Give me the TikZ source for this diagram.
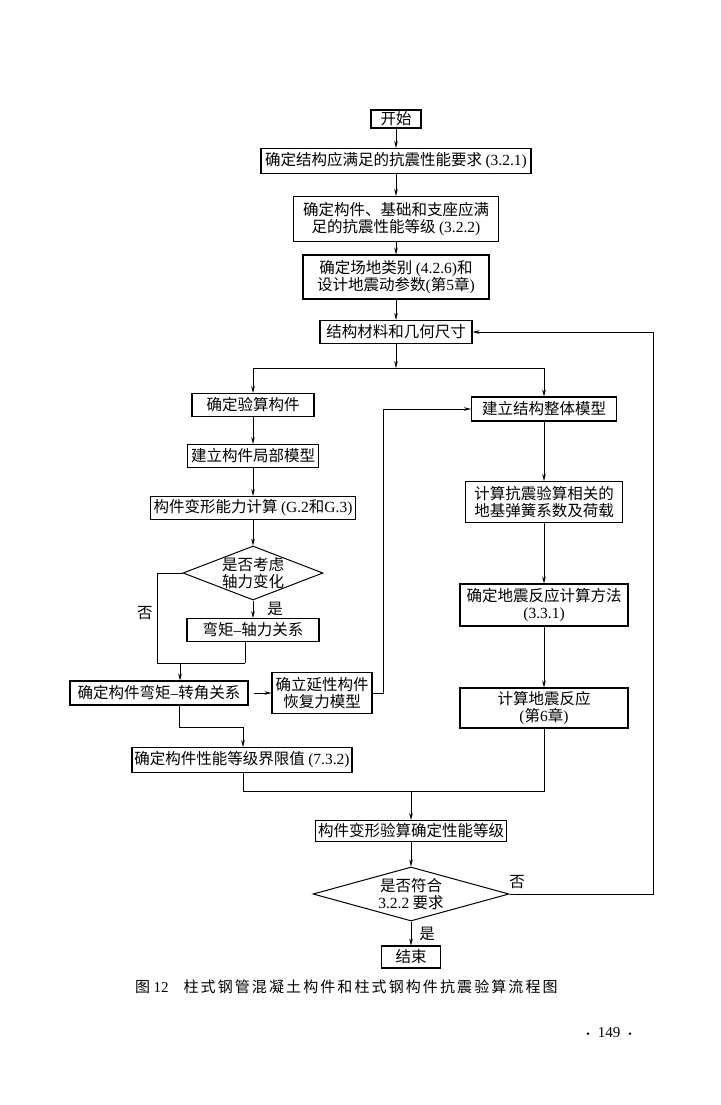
\documentclass[tikz,border=0pt]{standalone}
\usepackage{fontspec}
\setmainfont{Liberation Serif}
\newfontfamily\cjk{Noto Sans CJK SC}
\newfontfamily\cjkcap[LetterSpace=14]{Noto Sans CJK SC}
\usetikzlibrary{arrows.meta,shapes.geometric}
\newcommand\lat[1]{{\rmfamily #1}}
\newcommand\pgdot{{\fontsize{10}{10}\selectfont\textbullet}}
\begin{document}
\begin{tikzpicture}[x=1pt,y=-1pt,
  every node/.style={font=\cjk\fontsize{15.5}{17.5}\selectfont, inner sep=0pt},
  box/.style={draw, line width=1.1pt, align=center},
  dia/.style={draw, diamond, line width=1pt, inner sep=0pt},
  conn/.style={line width=0.6pt},
  arr/.style={conn, -{Stealth[length=7pt,width=3.6pt]}}]
\useasboundingbox (0,0) rectangle (720,1105);

% top column
\node[box, minimum width=50, minimum height=18] (start) at (396,119) {开始};
\node[box, minimum width=270, minimum height=25] (req) at (396,161) {确定结构应满足的抗震性能要求 \lat{(3.2.1)}};
\node[box, minimum width=205, minimum height=45] (grade) at (396,219) {确定构件、基础和支座应满\\足的抗震性能等级 \lat{(3.2.2)}};
\node[box, minimum width=186, minimum height=44] (site) at (396,277) {确定场地类别 \lat{(4.2.6)}和\\设计地震动参数\lat{(}第\lat{5}章\lat{)}};
\node[box, minimum width=152, minimum height=23] (mat) at (396,332) {结构材料和几何尺寸};

% left column
\node[box, minimum width=122, minimum height=23] (sel) at (253,405) {确定验算构件};
\node[box, minimum width=131, minimum height=23] (local) at (253,456) {建立构件局部模型};
\node[box, minimum width=205, minimum height=23] (cap) at (253,508) {构件变形能力计算 \lat{(G.2}和\lat{G.3)}};
\node[dia, minimum width=140, minimum height=54] (d1) at (253,573) {};
\node[align=center] (d1t) at (d1) {是否考虑\\轴力变化};
\node[box, minimum width=132, minimum height=23] (mn) at (253,630) {弯矩\lat{–}轴力关系};
\node[box, minimum width=178, minimum height=24] (mr) at (159,693) {确定构件弯矩\lat{–}转角关系};
\node[box, minimum width=100, minimum height=41] (hyst) at (322,693) {确立延性构件\\恢复力模型};
\node[box, minimum width=220, minimum height=25] (lim) at (242,760) {确定构件性能等级界限值 \lat{(7.3.2)}};

% right column
\node[box, minimum width=145, minimum height=24] (glob) at (544,409) {建立结构整体模型};
\node[box, minimum width=157, minimum height=41] (spring) at (544,502) {计算抗震验算相关的\\地基弹簧系数及荷载};
\node[box, minimum width=168, minimum height=42] (meth) at (544,605) {确定地震反应计算方法\\\lat{(3.3.1)}};
\node[box, minimum width=168, minimum height=40] (resp) at (544,708) {计算地震反应\\\lat{(}第\lat{6}章\lat{)}};

% bottom
\node[box, minimum width=191, minimum height=21] (check) at (411,831) {构件变形验算确定性能等级};
\node[dia, minimum width=196, minimum height=54] (d2) at (411,894) {};
\node[align=center] (d2t) at (d2) {是否符合\\\lat{3.2.2} 要求};
\node[box, minimum width=59, minimum height=22] (end) at (411,957) {结束};

% coordinates
\coordinate (split) at (396,368);
\coordinate (m1) at (157,663);
\coordinate (j1) at (245,663);
\coordinate (j2) at (180,663);
\coordinate (h1) at (383,693);
\coordinate (k1) at (179,727);
\coordinate (k2) at (243,727);
\coordinate (b1) at (243,791);
\coordinate (b2) at (544,791);
\coordinate (b3) at (411,791);
\coordinate (r1) at (653,894);

% connectors
\draw[arr] (start) -- (req);
\draw[arr] (req) -- (grade);
\draw[arr] (grade) -- (site);
\draw[arr] (site) -- (mat);
\draw[arr] (mat) -- (split);
\draw[arr] (split) -| (sel);
\draw[arr] (split) -| (glob);
\draw[arr] (sel) -- (local);
\draw[arr] (local) -- (cap);
\draw[arr] (cap) -- (d1);
\draw[arr] (d1) -- node[midway, right=14pt] (yes1) {是} (mn);
\draw[conn] (d1.west) -| node[pos=0.72, left=4pt] (no1) {否} (m1) -- (j1);
\draw[conn] (mn.south -| j1) -- (j1);
\draw[arr] (j2) -- (j2 |- mr.north);
\draw[arr, shorten <=5pt] (mr) -- (hyst);
\draw[arr] (hyst.east) -- (h1) |- (glob.west);
\draw[arr] (mr.south -| k1) |- (k2) -- (k2 |- lim.north);
\draw[arr] (glob) -- (spring);
\draw[arr] (spring) -- (meth);
\draw[arr] (meth) -- (resp);
\draw[conn] (lim.south -| b1) -- (b1) -- (b2) -- (resp.south -| b2);
\draw[arr] (b3) -- (check);
\draw[arr] (check) -- (d2);
\draw[arr] (d2) -- node[midway, right=8pt] (yes2) {是} (end);
\draw[arr] (d2.east) -- (r1) |- (mat.east);
\node (no2) at (517,882) {否};

% caption and page number
\node[anchor=west, font=\cjk\fontsize{15}{17}\selectfont] (cap12) at (135,987) {图 \lat{12}\hspace{15pt}{\cjkcap 柱式钢管混凝土构件和柱式钢构件抗震验算流程图}};
\node[font=\rmfamily\fontsize{15}{18}\selectfont] (pg) at (609,1033) {\pgdot\hspace{8pt}149\hspace{8pt}\pgdot};
\end{tikzpicture}
\end{document}
